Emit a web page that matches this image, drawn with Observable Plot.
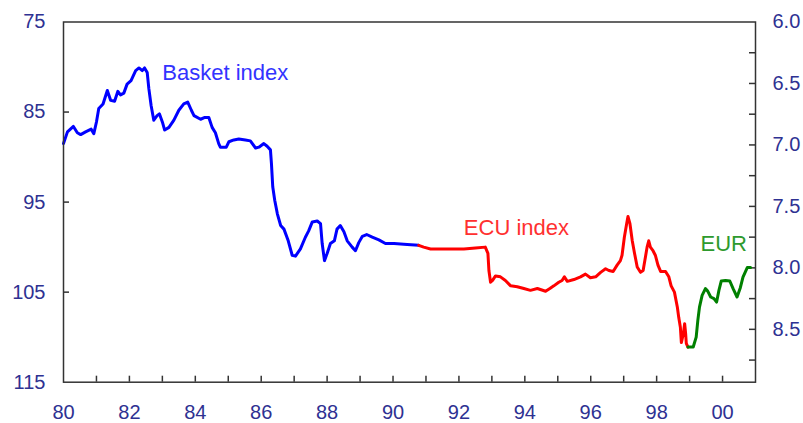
<!DOCTYPE html>
<html><head><meta charset="utf-8">
<script src="https://cdn.jsdelivr.net/npm/d3@7"></script>
<script src="https://cdn.jsdelivr.net/npm/@observablehq/plot@0.6"></script>
<style>body{margin:0;background:#fff}</style>
</head><body><div id="chart"></div>
<script>
// Basket index (left axis, inverted)
const basketYear = [1980.0,1980.12,1980.3,1980.42,1980.52,1980.67,1980.84,1980.92,1981.0,1981.07,1981.2,1981.33,1981.43,1981.55,1981.65,1981.73,1981.83,1981.93,1982.05,1982.19,1982.29,1982.39,1982.46,1982.54,1982.59,1982.66,1982.74,1982.84,1982.91,1983.0,1983.07,1983.2,1983.35,1983.5,1983.65,1983.77,1983.88,1983.96,1984.16,1984.29,1984.41,1984.51,1984.61,1984.71,1984.76,1984.94,1985.02,1985.17,1985.32,1985.52,1985.67,1985.83,1985.93,1986.08,1986.18,1986.28,1986.31,1986.35,1986.41,1986.49,1986.59,1986.69,1986.82,1986.94,1987.04,1987.19,1987.34,1987.44,1987.55,1987.7,1987.8,1987.85,1987.92,1988.0,1988.1,1988.22,1988.3,1988.4,1988.51,1988.61,1988.76,1988.86,1988.96,1989.07,1989.2,1989.37,1989.57,1989.77,1990.03,1990.43,1990.78];
const basketIndex = [88.5,87.2,86.6,87.3,87.5,87.2,86.9,87.4,86.1,84.6,84.1,82.6,83.7,83.8,82.7,83.1,82.9,81.9,81.5,80.4,80.1,80.4,80.1,80.6,82.4,84.3,85.9,85.4,85.2,86.1,87.0,86.7,85.9,84.8,84.1,83.9,84.8,85.4,85.8,85.6,85.6,86.7,87.3,88.5,88.9,88.9,88.3,88.1,88.0,88.1,88.2,89.0,88.9,88.5,88.8,89.2,90.7,93.3,94.8,96.3,97.6,98.0,99.3,100.9,101.0,100.2,98.9,98.2,97.2,97.1,97.4,99.6,101.5,100.7,99.6,99.3,98.0,97.6,98.3,99.3,100.0,100.4,99.5,98.8,98.6,98.9,99.2,99.6,99.6,99.7,99.8];

// ECU index (left axis, inverted)
const ecuYear = [1990.78,1990.93,1991.14,1991.6,1992.15,1992.5,1992.8,1992.88,1992.91,1992.96,1993.02,1993.11,1993.26,1993.41,1993.57,1993.77,1993.97,1994.17,1994.38,1994.63,1994.76,1994.88,1995.03,1995.13,1995.2,1995.29,1995.49,1995.69,1995.84,1995.99,1996.15,1996.3,1996.45,1996.55,1996.68,1996.8,1996.9,1996.95,1997.02,1997.09,1997.13,1997.19,1997.26,1997.33,1997.41,1997.51,1997.59,1997.66,1997.71,1997.76,1997.81,1997.89,1997.96,1998.04,1998.12,1998.27,1998.37,1998.44,1998.54,1998.63,1998.67,1998.72,1998.75,1998.81,1998.85,1998.88,1998.9,1998.95];
const ecuIndex = [99.8,100.0,100.2,100.2,100.2,100.1,100.0,100.7,102.6,103.9,103.7,103.2,103.3,103.7,104.3,104.4,104.6,104.8,104.6,104.9,104.6,104.3,103.9,103.7,103.3,103.8,103.6,103.3,103.0,103.4,103.3,102.8,102.4,102.6,102.7,102.0,101.5,100.9,98.9,97.4,96.6,97.4,99.3,100.7,102.2,102.8,102.6,101.1,100.0,99.3,100.0,100.4,100.9,102.0,102.7,102.7,103.3,104.3,105.0,106.7,107.8,108.9,110.6,109.6,108.5,109.6,110.7,111.1];

// EUR (right axis, inverted)
const eurYear = [1998.95,1999.11,1999.2,1999.25,1999.3,1999.38,1999.48,1999.55,1999.64,1999.74,1999.82,1999.89,1999.96,2000.09,2000.22,2000.32,2000.44,2000.54,2000.62,2000.75,2000.85];
const eurRate = [8.644,8.644,8.563,8.427,8.319,8.224,8.169,8.189,8.237,8.250,8.278,8.183,8.107,8.102,8.107,8.169,8.237,8.161,8.075,7.998,7.998];

const leftTicks = [75,85,95,105,115];
const leftInnerTicks = [85,95,105];
const rightTicks = [6.0,6.5,7.0,7.5,8.0,8.5];
const rightInnerTicks = [6.25,6.5,6.75,7.0,7.25,7.5,7.75,8.0,8.25,8.5,8.75];
const xLabelYears = [1980,1982,1984,1986,1988,1990,1992,1994,1996,1998,2000];
const xTickYears = [1981,1982,1983,1984,1985,1986,1987,1988,1989,1990,1991,1992,1993,1994,1995,1996,1997,1998,1999,2000];

const labelText = ["Basket index","ECU index","EUR"];
const labelYear = [1983.0,1992.15,1999.33];
const labelIndex = [80.7,97.9,99.6];
const labelColor = ["#3333ff","#ff3030","#2e9a2e"];

const leftMin = 75, leftMax = 115, rightMin = 6.0, rightMax = 8.93;
const toLeft = v => leftMin + (v - rightMin) * (leftMax - leftMin) / (rightMax - rightMin);

const W = 803, H = 423, mL = 63, mR = 48, mT = 21.5, mB = 41.3;
const innerW = W - mL - mR, innerH = H - mT - mB, tk = 6;
const navy = "#2e3192";

const basket = basketYear.map((x,i) => ({x, y: basketIndex[i]}));
const ecu = ecuYear.map((x,i) => ({x, y: ecuIndex[i]}));
const eur = eurYear.map((x,i) => ({x, y: toLeft(eurRate[i])}));
const labels = labelText.map((t,i) => ({t, x: labelYear[i], y: labelIndex[i], c: labelColor[i]}));

const chart = Plot.plot({
  width: W, height: H,
  marginLeft: mL, marginRight: mR, marginTop: mT, marginBottom: mB,
  style: {fontFamily: "'Liberation Sans', Arial, sans-serif", fontSize: "20px", background: "#fff"},
  x: {domain: [1980, 2001], axis: null},
  y: {domain: [leftMin, leftMax], reverse: true, axis: null},
  marks: [
    Plot.axisY(leftTicks, {anchor: "left", tickSize: 0, tickPadding: 18, color: navy, label: null, fontSize: 20}),
    Plot.axisY(rightTicks.map(toLeft), {anchor: "right", tickSize: 0, tickPadding: 17, color: navy, label: null, fontSize: 20,
      tickFormat: (d, i) => rightTicks[i].toFixed(1)}),
    Plot.axisX(xLabelYears, {anchor: "bottom", tickSize: 0, tickPadding: 23, color: navy, label: null, fontSize: 20,
      tickFormat: d => String(d % 100).padStart(2, "0")}),
    Plot.tickY(leftInnerTicks, {y: d => d, insetRight: innerW - tk, stroke: "#333", strokeWidth: 1.5}),
    Plot.tickY(rightInnerTicks.map(toLeft), {y: d => d, insetLeft: innerW - tk, stroke: "#333", strokeWidth: 1.5}),
    Plot.tickX(xTickYears, {x: d => d, insetTop: innerH - tk, stroke: "#333", strokeWidth: 1.5}),
    Plot.line(basket, {x: "x", y: "y", stroke: "#0000ff", strokeWidth: 3}),
    Plot.line(ecu, {x: "x", y: "y", stroke: "#ff0000", strokeWidth: 3}),
    Plot.line(eur, {x: "x", y: "y", stroke: "#008000", strokeWidth: 3}),
    Plot.text(labels, {x: "x", y: "y", text: "t", fill: "c", textAnchor: "start", lineAnchor: "middle", fontSize: 22}),
    Plot.frame({stroke: "#333", strokeWidth: 1.5})
  ]
});
document.getElementById("chart").appendChild(chart);
</script>
</body></html>
